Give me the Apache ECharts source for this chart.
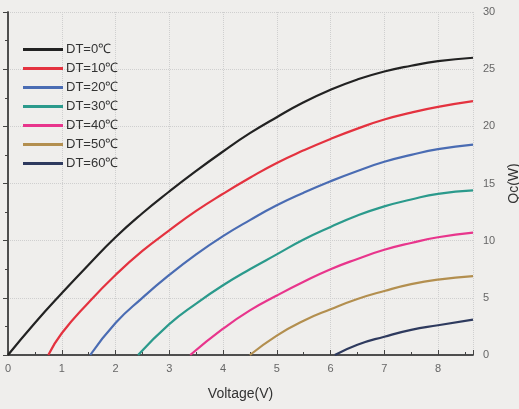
<!DOCTYPE html>
<html><head><meta charset="utf-8">
<script src="https://cdn.jsdelivr.net/npm/echarts@6/dist/echarts.min.js"></script>
<style>html,body{margin:0;padding:0;background:#efeeec;}#c{width:519px;height:409px;}</style>
</head><body><div id="c"></div>
<script>
const seriesNames = ['DT=0℃','DT=10℃','DT=20℃','DT=30℃','DT=40℃','DT=50℃','DT=60℃'];
const dt0  = [[0,0],[0.5,2.8],[1,5.4],[1.5,7.9],[2,10.3],[2.5,12.4],[3,14.3],[3.5,16.1],[4,17.8],[4.5,19.4],[5,20.8],[5.5,22.1],[6,23.2],[6.5,24.1],[7,24.8],[7.5,25.3],[8,25.7],[8.65,26.0]];
const dt10 = [[0.75,0],[1,1.9],[1.5,4.6],[2,7.0],[2.5,9.1],[3,10.9],[3.5,12.6],[4,14.1],[4.5,15.5],[5,16.8],[5.5,17.9],[6,18.9],[6.5,19.8],[7,20.6],[7.5,21.2],[8,21.7],[8.65,22.2]];
const dt20 = [[1.53,0],[2,2.8],[2.5,5.0],[3,7.0],[3.5,8.8],[4,10.4],[4.5,11.8],[5,13.1],[5.5,14.2],[6,15.2],[6.5,16.1],[7,16.9],[7.5,17.5],[8,18.0],[8.65,18.4]];
const dt30 = [[2.42,0],[3,2.7],[3.5,4.5],[4,6.1],[4.5,7.5],[5,8.8],[5.5,10.1],[6,11.2],[6.5,12.2],[7,13.0],[7.5,13.6],[8,14.1],[8.65,14.4]];
const dt40 = [[3.39,0],[4,2.3],[4.5,3.9],[5,5.2],[5.5,6.4],[6,7.5],[6.5,8.4],[7,9.2],[7.5,9.8],[8,10.3],[8.65,10.7]];
const dt50 = [[4.5,0],[5,1.7],[5.5,3.0],[6,4.0],[6.5,4.9],[7,5.6],[7.5,6.2],[8,6.6],[8.65,6.9]];
const dt60 = [[6.08,0],[6.5,0.9],[7,1.6],[7.5,2.2],[8,2.6],[8.65,3.1]];
const xTicks = [0,1,2,3,4,5,6,7,8];
const yTicks = [0,5,10,15,20,25,30];
const colors = ['#222222','#e4323f','#4a6cb3','#2b9a8c','#e8358c','#b38f4f','#2e3a5e'];

const allData = [dt0,dt10,dt20,dt30,dt40,dt50,dt60];
const font = 'Liberation Sans, Arial, sans-serif';
const chart = echarts.init(document.getElementById('c'));
chart.setOption({
  backgroundColor:'#efeeec',
  animation:false,
  color:colors,
  grid:{left:8,right:46,top:12,bottom:54,containLabel:false,outerBoundsMode:'none'},
  legend:{
    orient:'vertical',left:18,top:38,itemGap:6,itemWidth:40,itemHeight:13,
    icon:'path://M0,5 L40,5 L40,8 L0,8 Z',
    textStyle:{fontFamily:font,fontSize:13,color:'#333',padding:[0,0,0,-2]},
    data:seriesNames
  },
  xAxis:[{
    type:'value',min:0,max:8.65,interval:1,position:'bottom',
    name:'Voltage(V)',nameLocation:'middle',nameGap:32,
    nameTextStyle:{fontFamily:font,fontSize:14,color:'#333'},
    axisLine:{lineStyle:{color:'#444',width:1.5}},
    axisTick:{inside:true,length:5,lineStyle:{color:'#444'}},
    minorTick:{show:true,splitNumber:2,length:3,lineStyle:{color:'#444'}},
    axisLabel:{fontFamily:font,fontSize:11,color:'#666',margin:8,showMaxLabel:false,
      formatter:v=> xTicks.includes(v)? String(v):''},
    splitLine:{show:true,lineStyle:{color:'#cfcfcf',type:'dotted'}}
  },{
    type:'value',min:0,max:8.65,position:'top',
    axisLine:{show:true,lineStyle:{color:'#444',width:1.5}},
    axisTick:{show:false},axisLabel:{show:false},splitLine:{show:false}
  }],
  yAxis:[{
    type:'value',min:0,max:30,interval:5,position:'right',
    name:'Qc(W)',nameLocation:'middle',nameGap:34,nameRotate:90,nameMoveOverlap:false,
    nameTextStyle:{fontFamily:font,fontSize:14,color:'#333',padding:[0,0,8,0]},
    axisLine:{show:true,lineStyle:{color:'#444',width:1.5}},
    axisTick:{show:true,inside:true,length:5,lineStyle:{color:'#444'}},
    minorTick:{show:true,splitNumber:2,length:3,lineStyle:{color:'#444'}},
    axisLabel:{fontFamily:font,fontSize:11,color:'#666',margin:10,
      formatter:v=> yTicks.includes(v)? String(v):''},
    splitLine:{show:true,lineStyle:{color:'#cfcfcf',type:'dotted'}}
  },{
    type:'value',min:0,max:30,position:'left',
    axisLine:{show:true,lineStyle:{color:'#444',width:1.5}},
    axisTick:{show:false},axisLabel:{show:false},splitLine:{show:false}
  }],
  series: allData.map((d,i)=>({
    name:seriesNames[i],type:'line',data:d,smooth:0.5,showSymbol:false,
    lineStyle:{width:2.2,color:colors[i]},itemStyle:{color:colors[i]}
  }))
});
</script></body></html>
